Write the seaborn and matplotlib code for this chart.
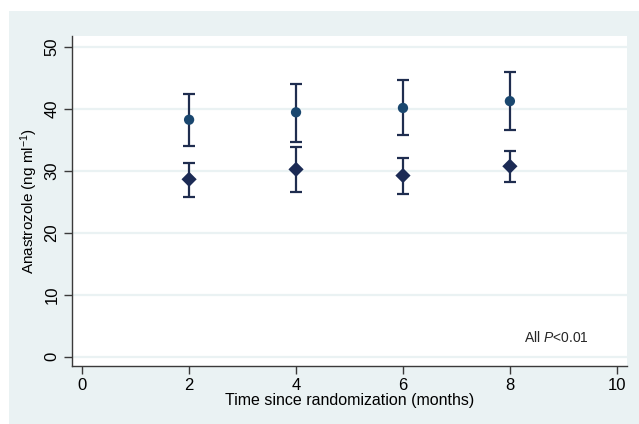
import numpy as np
import pandas as pd
import matplotlib
matplotlib.use("Agg")
import matplotlib.pyplot as plt
from matplotlib import font_manager
from matplotlib.patches import Rectangle
import seaborn as sns

# ---- data ----
months = [2, 4, 6, 8]
grp1_mean = [38.2, 39.4, 40.1, 41.2]
grp1_low = [34.0, 34.6, 35.7, 36.6]
grp1_high = [42.3, 44.0, 44.6, 45.9]
grp2_mean = [28.6, 30.2, 29.2, 30.7]
grp2_low = [25.8, 26.6, 26.2, 28.2]
grp2_high = [31.3, 33.8, 32.1, 33.2]
x_ticks = [0, 2, 4, 6, 8, 10]
y_ticks = [0, 10, 20, 30, 40, 50]

sns.set_theme(style="white")
names = {f.name for f in font_manager.fontManager.ttflist}
main_font = "Liberation Sans Narrow" if "Liberation Sans Narrow" in names else "Liberation Sans"
plt.rcParams["font.family"] = [main_font, "DejaVu Sans"]
plt.rcParams["mathtext.fontset"] = "custom"
plt.rcParams["mathtext.rm"] = "Liberation Sans"
plt.rcParams["mathtext.it"] = "Liberation Sans:italic"

W, H = 639, 424
fig = plt.figure(figsize=(W / 100, H / 100), dpi=100)
fig.patch.set_facecolor("white")
panel = "#EAF2F3"
fig.patches.append(Rectangle((9 / W, 0), 1 - 9 / W, 1 - 11 / H, transform=fig.transFigure,
                             facecolor=panel, edgecolor="none", zorder=-5))

l, r, t, b = 72, 627, 36, 366
ax = fig.add_axes([l / W, 1 - b / H, (r - l) / W, (b - t) / H])
ax.set_zorder(2)
ax.set_facecolor("white")

df = pd.DataFrame({
    "month": months * 2,
    "value": grp1_mean + grp2_mean,
    "group": ["A"] * 4 + ["B"] * 4,
})

err_col = "#1f2d4f"
ax.errorbar(months, grp1_mean,
            yerr=[np.subtract(grp1_mean, grp1_low), np.subtract(grp1_high, grp1_mean)],
            fmt="none", ecolor=err_col, elinewidth=1.6, capsize=4.5, capthick=1.6, zorder=2)
ax.errorbar(months, grp2_mean,
            yerr=[np.subtract(grp2_mean, grp2_low), np.subtract(grp2_high, grp2_mean)],
            fmt="none", ecolor=err_col, elinewidth=1.6, capsize=4.5, capthick=1.6, zorder=2)

sns.scatterplot(data=df, x="month", y="value", hue="group", style="group",
                markers={"A": "o", "B": "D"},
                palette={"A": "#1a476f", "B": "#1c2b55"},
                size="group", sizes={"A": 55, "B": 60},
                edgecolor="none", legend=False, ax=ax, zorder=3)

ax.set_xlim(-0.19, 10.19)
ax.set_ylim(-1.5, 51.7)
ax.set_xticks(x_ticks)
ax.set_yticks(y_ticks)
ax.set_xticklabels([str(v) for v in x_ticks])
ax.set_yticklabels([str(v) for v in y_ticks], rotation=90, va="center")
for yv in y_ticks:
    ax.axhline(yv, color=panel, lw=1.6, zorder=1)

for s in ["top", "right"]:
    ax.spines[s].set_visible(False)
for s in ["left", "bottom"]:
    ax.spines[s].set_color("#3a3a3a")
    ax.spines[s].set_linewidth(1.0)
ax.tick_params(axis="both", which="both", direction="out", length=6, width=1.0,
               color="#3a3a3a", labelsize=12, labelcolor="black", pad=3,
               left=True, bottom=True)

ax.set_xlabel("Time since randomization (months)", fontsize=11.5, color="black", labelpad=0)
ax.set_ylabel("Anastrozole (ng ml$^{-1}$)", fontsize=11, color="black", labelpad=3)

fig.text(556 / W, 1 - 337 / H, "All $\\mathit{P}$<0.01", ha="center", va="center",
         fontsize=10, family=["Liberation Sans", "DejaVu Sans"], zorder=5)

fig.savefig("out.png", dpi=100, facecolor="white")
